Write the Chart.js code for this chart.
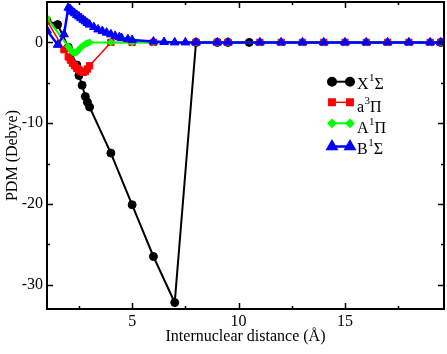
<!DOCTYPE html>
<html><head><meta charset="utf-8">
<script src="https://cdn.jsdelivr.net/npm/chart.js@4"></script>
<style>html,body{margin:0;padding:0;background:#fff}</style>
</head><body>
<canvas id="c" width="447" height="354"></canvas>
<script>
// ---- data ----
const xX = [1.0, 1.5, 2.0, 2.4, 2.5, 2.65, 2.8, 2.9, 3.0, 4, 5, 6, 7, 8, 9, 9.5, 10.5, 19.5];
const yX = [2.7, 2.2, -0.6, -2.8, -4.1, -5.3, -6.7, -7.4, -8.0, -13.7, -20.1, -26.5, -32.2, 0, 0, 0, 0, 0];

const xA3 = [1.0, 1.8, 2.0, 2.1, 2.2, 2.3, 2.4, 2.5, 2.6, 2.7, 2.8, 2.9, 3.0, 4, 5, 6, 8, 9, 9.5, 11, 12, 13, 14, 15, 16, 17, 18, 19, 19.5];
const yA3 = [2.7, -0.9, -1.8, -2.2, -2.6, -2.9, -3.2, -3.4, -3.6, -3.7, -3.6, -3.3, -2.9, 0, 0, 0, 0, 0, 0, 0, 0, 0, 0, 0, 0, 0, 0, 0, 0];

const xA1 = [1.0, 2.0, 2.1, 2.2, 2.3, 2.4, 2.5, 2.6, 2.7, 2.8, 2.9, 3.0, 4, 5, 6, 8, 9, 9.5, 11, 12, 13, 14, 15, 16, 17, 18, 19, 19.5];
const yA1 = [3.0, -0.5, -0.9, -1.2, -1.3, -1.2, -0.9, -0.6, -0.4, -0.2, -0.1, 0, 0, 0, 0, 0, 0, 0, 0, 0, 0, 0, 0, 0, 0, 0, 0, 0];

const xB1 = [1.0, 1.5, 1.8, 2.0, 2.1, 2.2, 2.3, 2.4, 2.5, 2.6, 2.7, 2.8, 2.9, 3.0, 3.2, 3.4, 3.6, 3.8, 4.0, 4.2, 4.4, 4.5, 4.8, 5.0, 6.0, 6.5, 7.0, 7.5, 8, 9, 9.5, 11, 12, 13, 14, 15, 16, 17, 18, 19, 19.5];
const yB1 = [1.5, -0.3, 1.0, 4.3, 4.1, 3.8, 3.6, 3.4, 3.2, 3.0, 2.8, 2.6, 2.4, 2.2, 1.9, 1.6, 1.4, 1.2, 1.0, 0.8, 0.65, 0.55, 0.4, 0.3, 0.1, 0.05, 0, 0, 0, 0, 0, 0, 0, 0, 0, 0, 0, 0, 0, 0, 0];

const xMajor = [5, 10, 15];
const xMinor = [2.5, 7.5, 12.5, 17.5];
const yMajor = [-30, -20, -10, 0];
const yMinor = [-25, -15, -5];

const seriesNames = [['X', '1', 'Σ'], ['a', '3', 'Π'], ['A', '1', 'Π'], ['B', '1', 'Σ']];
const seriesColors = ['#000000', '#ff0000', '#00ff00', '#0000ff'];
const seriesStyles = ['circle', 'rect', 'rectRot', 'triangle'];
const seriesRadius = [4, 4.5, 3.5, 5];
const seriesWidth = [2, 1.5, 2, 2.5];

const xs = [xX, xA3, xA1, xB1];
const ys = [yX, yA3, yA1, yB1];

const FONT = 'Liberation Serif';

const datasets = xs.map((xv, i) => ({
  label: seriesNames[i].join(''),
  data: xv.map((v, j) => ({x: v, y: ys[i][j]})),
  borderColor: seriesColors[i],
  backgroundColor: seriesColors[i],
  pointBackgroundColor: seriesColors[i],
  pointBorderColor: seriesColors[i],
  pointStyle: seriesStyles[i],
  pointRadius: seriesRadius[i],
  pointBorderWidth: 1,
  borderWidth: seriesWidth[i],
  tension: 0,
  order: 3 - i
}));

const framePlugin = {
  id: 'frame',
  afterDatasetsDraw(chart) {
    const {ctx, chartArea: a, scales: {x, y}} = chart;
    ctx.save();
    ctx.strokeStyle = '#000';
    ctx.lineWidth = 2;
    ctx.strokeRect(a.left, a.top, a.right - a.left, a.bottom - a.top);
    ctx.lineWidth = 1.5;
    ctx.beginPath();
    const xt = (vals, len) => vals.forEach(v => {
      const p = Math.round(x.getPixelForValue(v)) + 0.5;
      ctx.moveTo(p, a.bottom); ctx.lineTo(p, a.bottom - len);
      ctx.moveTo(p, a.top); ctx.lineTo(p, a.top + len);
    });
    const yt = (vals, len) => vals.forEach(v => {
      const p = Math.round(y.getPixelForValue(v)) + 0.5;
      ctx.moveTo(a.left, p); ctx.lineTo(a.left + len, p);
      ctx.moveTo(a.right, p); ctx.lineTo(a.right - len, p);
    });
    xt(xMajor, 6); xt(xMinor, 3); yt(yMajor, 6); yt(yMinor, 3);
    ctx.stroke();

    // legend
    const lx0 = 332, lx1 = 350, tx = 357;
    const rows = [[81.7, 89.3], [102.3, 111.7], [123.3, 133.3], [146.5, 154]];
    rows.forEach((r, i) => {
      ctx.strokeStyle = seriesColors[i];
      ctx.lineWidth = seriesWidth[i];
      ctx.beginPath(); ctx.moveTo(lx0, r[0]); ctx.lineTo(lx1, r[0]); ctx.stroke();
      const opts = {pointStyle: seriesStyles[i], radius: seriesRadius[i], borderWidth: 1, rotation: 0};
      ctx.fillStyle = seriesColors[i];
      Chart.helpers.drawPoint(ctx, opts, lx0, r[0]);
      Chart.helpers.drawPoint(ctx, opts, lx1, r[0]);
      ctx.fillStyle = '#000';
      ctx.textBaseline = 'alphabetic';
      ctx.textAlign = 'left';
      ctx.font = '16px "' + FONT + '"';
      const [a1, sup, b1] = seriesNames[i];
      ctx.fillText(a1, tx, r[1]);
      let px = tx + ctx.measureText(a1).width;
      ctx.font = '11px "' + FONT + '"';
      ctx.fillText(sup, px + 0.5, r[1] - 8);
      px += ctx.measureText(sup).width + 0.5;
      ctx.font = '16px "' + FONT + '"';
      ctx.fillText(b1, px, r[1]);
    });
    ctx.restore();
  }
};

new Chart(document.getElementById('c'), {
  type: 'line',
  data: {datasets},
  plugins: [framePlugin],
  options: {
    responsive: false,
    animation: false,
    devicePixelRatio: 1,
    layout: {autoPadding: false, padding: {left: 0, right: 3, top: 2, bottom: 0}},
    plugins: {legend: {display: false}, tooltip: {enabled: false}},
    scales: {
      x: {
        type: 'linear', min: 1, max: 19.65,
        grid: {display: false, drawTicks: false},
        border: {display: false},
        afterBuildTicks(s) { s.ticks = xMajor.map(v => ({value: v})); },
        afterFit(s) { s.height = 45; s.paddingLeft = 0; s.paddingRight = 0; },
        ticks: {color: '#000', font: {family: FONT, size: 16}, padding: 3, maxRotation: 0, autoSkip: false, callback: v => String(v)},
        title: {display: true, text: 'Internuclear distance (Å)', color: '#000', font: {family: FONT, size: 16}, padding: {top: 0, bottom: 8}}
      },
      y: {
        type: 'linear', min: -33, max: 5,
        grid: {display: false, drawTicks: false},
        border: {display: false},
        afterBuildTicks(s) { s.ticks = yMajor.map(v => ({value: v})); },
        afterFit(s) { s.width = 47; s.paddingTop = 0; s.paddingBottom = 0; },
        ticks: {color: '#000', font: {family: FONT, size: 16}, padding: 4, autoSkip: false, callback: v => String(v)},
        title: {display: true, text: 'PDM (Debye)', color: '#000', font: {family: FONT, size: 16}, padding: {top: 3, bottom: 0}}
      }
    }
  }
});
</script>
</body></html>
